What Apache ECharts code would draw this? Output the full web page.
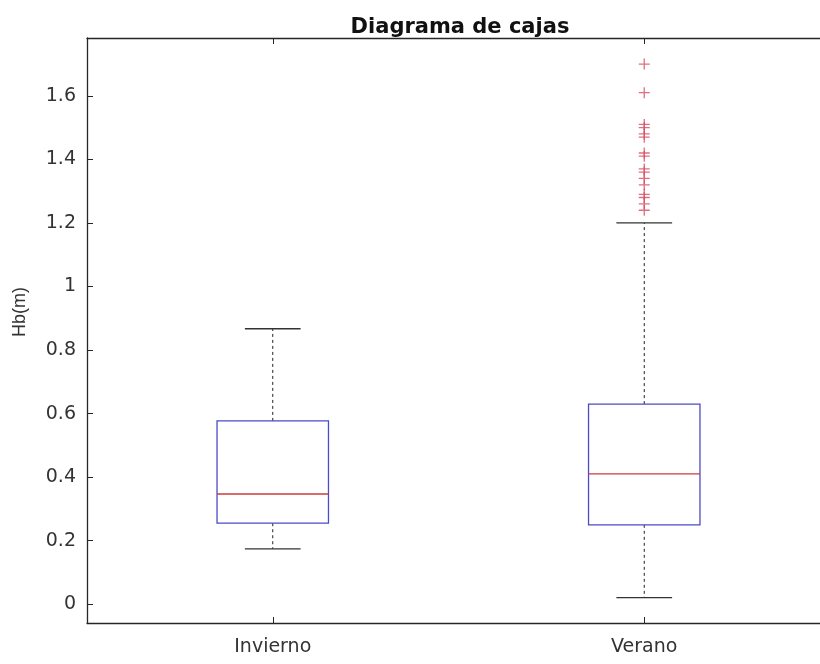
<!DOCTYPE html>
<html>
<head>
<meta charset="utf-8">
<script src="https://cdn.jsdelivr.net/npm/echarts@6/dist/echarts.min.js"></script>
<style>
  html, body { margin: 0; padding: 0; background: #fff; }
  #chart { width: 820px; height: 664px; }
</style>
</head>
<body>
<div id="chart"></div>
<script>
// Box summary per season (Hb in metres)
const categories = ['Invierno', 'Verano'];
const lowerWhisker = [0.174, 0.021];
const q1 = [0.255, 0.250];
const medians = [0.347, 0.410];
const q3 = [0.577, 0.630];
const upperWhisker = [0.867, 1.200];

// Points beyond the upper whisker in the summer sample
const outliersVerano = [1.70, 1.61, 1.51, 1.50, 1.48, 1.47, 1.42, 1.41,
                        1.37, 1.36, 1.34, 1.32, 1.29, 1.28, 1.26, 1.24];

const yTicks = [0, 0.2, 0.4, 0.6, 0.8, 1, 1.2, 1.4, 1.6];

const AXIS = '#262626';
const TEXT = '#333333';
const BOX = '#4b4bc8';
const MEDIAN = '#cc3a3a';
const OUTLIER = '#d84a62';
const FONT = '"DejaVu Sans", sans-serif';
const LABEL_FONT = '"Liberation Sans", Arial, sans-serif';

const boxData = categories.map((c, i) =>
  [i, lowerWhisker[i], q1[i], medians[i], q3[i], upperWhisker[i]]);

const outlierData = outliersVerano.map(v => [1, v]);

function renderBox(params, api) {
  const idx = api.value(0);
  const lo = api.coord([idx, api.value(1)]);
  const b1 = api.coord([idx, api.value(2)]);
  const md = api.coord([idx, api.value(3)]);
  const b3 = api.coord([idx, api.value(4)]);
  const hi = api.coord([idx, api.value(5)]);
  const band = api.size([1, 0])[0];
  const halfBox = band * 0.15;
  const halfCap = band * 0.075;
  const x = lo[0];
  const dashed = { stroke: '#222', lineWidth: 1, lineDash: [3, 3] };
  const solid = { stroke: '#333', lineWidth: 1.3 };
  return {
    type: 'group',
    children: [
      { type: 'line', shape: { x1: x, y1: b3[1], x2: x, y2: hi[1] }, style: dashed },
      { type: 'line', shape: { x1: x, y1: b1[1], x2: x, y2: lo[1] }, style: dashed },
      { type: 'line', shape: { x1: x - halfCap, y1: hi[1], x2: x + halfCap, y2: hi[1] }, style: solid },
      { type: 'line', shape: { x1: x - halfCap, y1: lo[1], x2: x + halfCap, y2: lo[1] }, style: solid },
      { type: 'rect', shape: { x: x - halfBox, y: b3[1], width: 2 * halfBox, height: b1[1] - b3[1] },
        style: { fill: 'none', stroke: BOX, lineWidth: 1.3 } },
      { type: 'line', shape: { x1: x - halfBox, y1: md[1], x2: x + halfBox, y2: md[1] },
        style: { stroke: MEDIAN, lineWidth: 1.3 } }
    ]
  };
}

const chart = echarts.init(document.getElementById('chart'), null, { renderer: 'canvas' });
chart.setOption({
  backgroundColor: '#ffffff',
  animation: false,
  title: {
    text: 'Diagrama de cajas',
    left: 455,
    top: 12,
    textAlign: 'center',
    textStyle: { fontFamily: FONT, fontSize: 21, fontWeight: 'bold', color: '#111' }
  },
  // plot box runs past the right edge of the canvas
  grid: { left: 87, top: 38, right: -10, height: 585, containLabel: false, outerBoundsMode: 'none' },
  xAxis: [
    {
      type: 'category',
      data: categories,
      position: 'bottom',
      boundaryGap: true,
      axisLine: { show: true, onZero: false, lineStyle: { color: AXIS, width: 1.3 } },
      axisTick: { show: true, inside: true, alignWithLabel: true, length: 6, lineStyle: { color: AXIS } },
      axisLabel: { margin: 15, fontFamily: FONT, fontSize: 19, color: TEXT },
      splitLine: { show: false }
    },
    {
      type: 'category',
      data: categories,
      position: 'top',
      boundaryGap: true,
      axisLine: { show: true, onZero: false, lineStyle: { color: AXIS, width: 1.3 } },
      axisTick: { show: true, inside: true, alignWithLabel: true, length: 6, lineStyle: { color: AXIS } },
      axisLabel: { show: false },
      splitLine: { show: false }
    }
  ],
  yAxis: {
    type: 'value',
    min: -0.059,
    max: 1.782,
    axisLine: { show: true, onZero: false, lineStyle: { color: AXIS, width: 1.3 } },
    axisTick: { show: true, inside: true, length: 6, customValues: yTicks, lineStyle: { color: AXIS } },
    axisLabel: {
      customValues: yTicks,
      margin: 11,
      fontFamily: FONT, fontSize: 19, color: TEXT,
      formatter: v => String(Math.round(v * 10) / 10)
    },
    splitLine: { show: false }
  },
  graphic: [
    {
      type: 'text',
      x: 20, y: 312,
      rotation: Math.PI / 2,
      style: {
        text: 'Hb(m)', fontFamily: LABEL_FONT, fontSize: 18, fill: TEXT,
        textAlign: 'center', textVerticalAlign: 'middle'
      }
    }
  ],
  series: [
    {
      type: 'custom',
      xAxisIndex: 0,
      renderItem: renderBox,
      encode: { x: 0, y: [1, 2, 3, 4, 5] },
      data: boxData,
      z: 3
    },
    {
      type: 'scatter',
      xAxisIndex: 0,
      symbol: 'path://M4.4 0H5.6V10H4.4ZM0 4.4H10V5.6H0Z',
      symbolSize: 11,
      itemStyle: { color: OUTLIER },
      data: outlierData,
      z: 4
    }
  ]
});
</script>
</body>
</html>
